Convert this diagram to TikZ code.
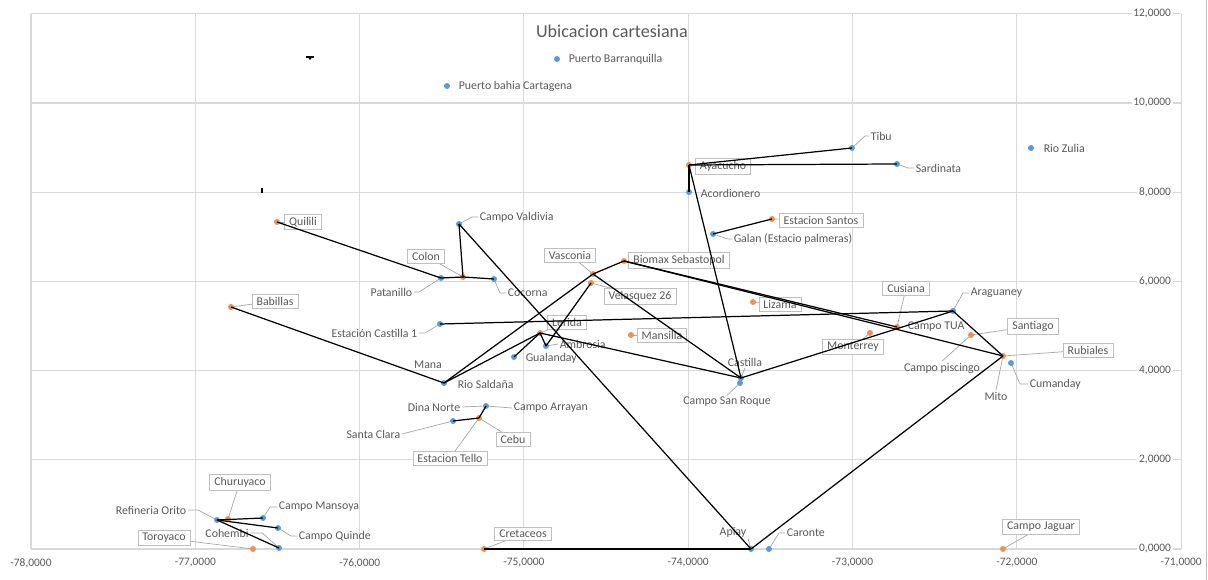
\documentclass[tikz,border=0pt]{standalone}
\usepackage{fontspec}
\setmainfont{Carlito}
\definecolor{gridc}{HTML}{D9D9D9}
\definecolor{txt}{HTML}{595959}
\definecolor{serA}{HTML}{5B9BD5}
\definecolor{serB}{HTML}{EE9050}
\definecolor{boxc}{HTML}{BFBFBF}
\definecolor{leadc}{HTML}{A6A6A6}
\pgfdeclarelayer{back}
\pgfsetlayers{back,main}
\begin{document}
\begin{tikzpicture}[x=0.02cm,y=-0.02cm,
  dotA/.style={circle,fill=serA,inner sep=0pt,minimum size=0.12cm},
  dotB/.style={circle,fill=serB,inner sep=0pt,minimum size=0.12cm},
  lbl/.style={text=txt,font=\fontsize{6.75}{8}\selectfont,inner sep=0.8pt},
  tag/.style={lbl,draw=boxc,fill=white,inner xsep=2.6pt,inner ysep=1.6pt,line width=0.4pt},
  lead/.style={draw=leadc,line width=0.4pt},
  link/.style={draw=black,line width=0.7pt},
  gridline/.style={draw=gridc,line width=0.6pt},
  axl/.style={text=txt,font=\fontsize{6.5}{8}\selectfont,inner sep=1pt}]
\useasboundingbox (0,0) rectangle (1208,580);

% grid and axes
\begin{pgfonlayer}{back}
\foreach \k in {0,...,7} \draw[gridline] ({31+164.3*\k},14) -- ({31+164.3*\k},549);
\foreach \k in {0,...,6} \draw[gridline] (31,{549-89.2*\k}) -- (1181,{549-89.2*\k});
\draw[draw=boxc,line width=0.5pt] (1206,0) -- (1206,580);
\end{pgfonlayer}
\foreach \k/\v in {0/-78,1/-77,2/-76,3/-75,4/-74,5/-73,6/-72,7/-71}
  \node[axl] (xl\k) at ({31+164.3*\k},563) {\v,0000};
\foreach \k/\v in {0/0,1/2,2/4,3/6,4/8,5/10,6/12}
  \node[axl,fill=white,anchor=east] (yl\k) at (1173,{549-89.2*\k}) {\v,0000};

\node[text=txt,font=\fontsize{10.3}{12}\selectfont] (title) at (612,31) {Ubicacion cartesiana};

% stray marks
\draw[black,line width=0.8pt] (306,57) -- (314,57);
\fill[black] (308,57.5) -- (312,57.5) -- (310,60) -- cycle;
\draw[black,line width=0.6pt] (262,188) -- (262,193);

% data points
\foreach \n/\px/\py/\s in {
  Barr/557/59/A, Cart/447/86/A, Tibu/852/148/A, Sard/897/164/A, Zulia/1031/148/A,
  Ayac/689/165/B, Acord/689/192/A, Santos/772/219/B, Galan/713/234/A,
  Quil/277/222/B, Valdi/459/224/A, Colon/463/277/B, Patan/441/278/A, Cocor/494/279/A,
  Vasc/593/274/B, Velas/591/283/B, Biomax/624/261/B, Lizama/753/302/B, Mansi/631/335/B,
  Cast1/440/324/A, Lerida/540/333/B, Ambro/546/346/A, Guala/514/357/A, Salda/444/383/A,
  Babi/231/307/B, SRoque/740/383/A, Castilla/741/378/A, Arrayan/486/406/A,
  SClara/453/421/A, Cebu/479/418/B, Creta/484/549/B, Apiay/751/549/A, Caronte/769/549/A,
  Jaguar/1003/549/B, TUA/897/327/B, Aragu/953/311/A, Monte/870/333/B, Santiago/971/335/B,
  Mito/1003/356/B, Cuman/1011/363/A, Churu/228/519/B, Orito/217/520/A,
  Mansoya/263/518/A, Quinde/278/528/A, Cohembi/279/548/A, Toro/253/549/B}
  \node[dot\s] (\n) at (\px,\py) {};

% labels
\node[lbl,anchor=west] (lBarr) at (567,59) {Puerto Barranquilla};
\node[lbl,anchor=west] (lCart) at (457,86) {Puerto bahia Cartagena};
\node[lbl,anchor=west] (lTibu) at (869,136) {Tibu};
\node[lbl,anchor=west] (lSard) at (914,168) {Sardinata};
\node[lbl,anchor=west] (lZulia) at (1042,148) {Rio Zulia};
\node[tag] (lAyac) at (723,166) {Ayacucho};
\node[lbl,anchor=west] (lAcord) at (699,193) {Acordionero};
\node[tag] (lSantos) at (821,220) {Estacion Santos};
\node[lbl,anchor=west] (lGalan) at (732,239) {Galan (Estacio palmeras)};
\node[tag] (lQuil) at (303,222) {Quilili};
\node[lbl,anchor=west] (lValdi) at (478,217) {Campo Valdivia};
\node[tag] (lColon) at (426,256) {Colon};
\node[lbl,anchor=east] (lPatan) at (414,292) {Patanillo};
\node[lbl,anchor=west] (lCocor) at (506,293) {Cocorna};
\node[tag] (lVasc) at (570,255) {Vasconia};
\node[tag] (lVelas) at (640,296) {Velasquez 26};
\node[tag] (lBiomax) at (679,260) {Biomax Sebastopol};
\node[tag] (lLizama) at (780,304) {Lizama};
\node[tag] (lMansi) at (662,335) {Mansilla};
\node[lbl,anchor=east] (lCast1) at (419,333) {Estación Castilla 1};
\node[tag] (lLerida) at (567,322) {Lerida};
\node[lbl,anchor=west] (lAmbro) at (558,344) {Ambrosia};
\node[lbl,anchor=west] (lGuala) at (524,358) {Gualanday};
\node[lbl] (lMana) at (428,365) {Mana};
\node[lbl,anchor=west] (lSalda) at (456,384) {Rio Saldaña};
\node[tag] (lBabi) at (275,301) {Babillas};
\node[lbl] (lCastilla) at (745,362) {Castilla};
\node[lbl] (lSRoque) at (727,402) {Campo San Roque};
\node[lbl,anchor=east] (lDina) at (462,407) {Dina Norte};
\node[lbl,anchor=west] (lArrayan) at (512,408) {Campo Arrayan};
\node[lbl,anchor=east] (lSClara) at (402,434) {Santa Clara};
\node[tag] (lCebu) at (513,439) {Cebu};
\node[tag] (lTello) at (450,458) {Estacion Tello};
\node[tag] (lCreta) at (523,534) {Cretaceos};
\node[lbl] (lApiay) at (733,532) {Apiay};
\node[lbl,anchor=west] (lCaronte) at (785,533) {Caronte};
\node[tag] (lJaguar) at (1041,527) {Campo Jaguar};
\node[tag] (lCusiana) at (906,288) {Cusiana};
\node[lbl,anchor=west] (lTUA) at (906,327) {Campo TUA};
\node[lbl,anchor=west] (lAragu) at (969,293) {Araguaney};
\node[tag] (lMonte) at (853,347) {Monterrey};
\node[tag] (lSantiago) at (1033,326) {Santiago};
\node[lbl] (lPisc) at (942,368) {Campo piscingo};
\node[lbl] (lMito) at (996,396) {Mito};
\node[tag] (lRubiales) at (1088,350) {Rubiales};
\node[lbl,anchor=west] (lCuman) at (1028,384) {Cumanday};
\node[tag] (lChuru) at (240,482) {Churuyaco};
\node[lbl,anchor=east] (lOrito) at (188,510) {Refineria Orito};
\node[lbl,anchor=west] (lMansoya) at (277,507) {Campo Mansoya};
\node[lbl,anchor=west] (lQuinde) at (297,536) {Campo Quinde};
\node[lbl] (lCohembi) at (227,533) {Cohembi};
\node[tag] (lToro) at (164,538) {Toroyaco};

% leader lines from labels to their points
\begin{pgfonlayer}{back}
\draw[lead] (lTibu.west) -- ++(-4,0) -- (Tibu.center);
\draw[lead] (lSard.west) -- ++(-6,0) -- (Sard.center);
\draw[lead] (lSantos.center) -- (Santos.center);
\draw[lead] (lGalan.west) -- ++(-4,0) -- (Galan.center);
\draw[lead] (lQuil.center) -- (Quil.center);
\draw[lead] (lValdi.west) -- ++(-6,0) -- (Valdi.center);
\draw[lead] (lColon.center) -- (Colon.center);
\draw[lead] (lPatan.east) -- ++(5,0) -- (Patan.center);
\draw[lead] (lCocor.west) -- ++(-6,0) -- (Cocor.center);
\draw[lead] (lVasc.center) -- (Vasc.center);
\draw[lead] (lVelas.center) -- (Velas.center);
\draw[lead] (lLizama.center) -- (Lizama.center);
\draw[lead] (lMansi.center) -- (Mansi.center);
\draw[lead] (lCast1.east) -- ++(6,0) -- (Cast1.center);
\draw[lead] (lLerida.center) -- (Lerida.center);
\draw[lead] (lAmbro.west) -- (Ambro.center);
\draw[lead] (lBabi.center) -- (Babi.center);
\draw[lead] (lCastilla.south) -- (Castilla.center);
\draw[lead] (lSRoque.north) -- (SRoque.center);
\draw[lead] (lDina.east) -- (Arrayan.center);
\draw[lead] (lArrayan.west) -- (Arrayan.center);
\draw[lead] (lSClara.east) -- (SClara.center);
\draw[lead] (lCebu.center) -- (Cebu.center);
\draw[lead] (lTello.center) -- (Cebu.center);
\draw[lead] (lCreta.center) -- (Creta.center);
\draw[lead] (lApiay.south east) -- (Apiay.center);
\draw[lead] (lCaronte.west) -- ++(-6,0) -- (Caronte.center);
\draw[lead] (lJaguar.center) -- (Jaguar.center);
\draw[lead] (lCusiana.center) -- (TUA.center);
\draw[lead] (lAragu.west) -- ++(-6,0) -- (Aragu.center);
\draw[lead] (lMonte.center) -- (Monte.center);
\draw[lead] (lSantiago.center) -- (Santiago.center);
\draw[lead] (lPisc.north) -- (Santiago.center);
\draw[lead] (lMito.north) -- (Mito.center);
\draw[lead] (lRubiales.center) -- (Mito.center);
\draw[lead] (lCuman.west) -- ++(-8,0) -- (Cuman.center);
\draw[lead] (lChuru.center) -- (Churu.center);
\draw[lead] (lOrito.east) -- ++(10,0) -- (Orito.center);
\draw[lead] (lMansoya.west) -- ++(-7,0) -- (Mansoya.center);
\draw[lead] (lQuinde.west) -- ++(-6,0) -- (Quinde.center);
\draw[lead] (lCohembi.east) -- ++(12,0) -- (Cohembi.center);
\draw[lead] (lToro.center) -- (Toro.center);
\end{pgfonlayer}

% route connections
\foreach \a/\b in {
  Quil/Patan, Patan/Colon, Colon/Cocor, Colon/Valdi, Valdi/Apiay,
  Babi/Salda, Salda/Vasc, Salda/Lerida, Vasc/Biomax, Vasc/Castilla,
  Velas/Ambro, Ambro/Lerida, Guala/Lerida, Lerida/Castilla,
  Biomax/TUA, Biomax/Mito, Castilla/Aragu, Cast1/Aragu, Aragu/Mito,
  Mito/Apiay, Creta/Apiay, Ayac/Tibu, Ayac/Sard, Ayac/Castilla, Ayac/Acord,
  Galan/Santos, Arrayan/Cebu, Cebu/SClara,
  Orito/Mansoya, Orito/Quinde, Orito/Cohembi}
  \draw[link] (\a.center) -- (\b.center);
\end{tikzpicture}
\end{document}
